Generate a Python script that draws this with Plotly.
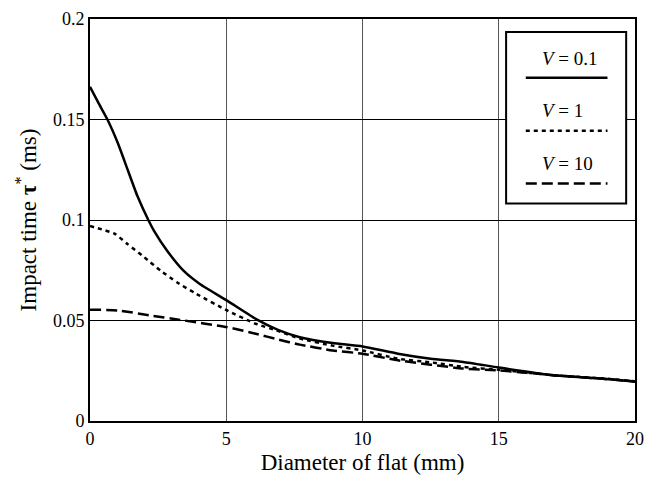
import plotly.graph_objects as go

# Impact time vs. diameter of flat, for three values of V
v01_x = [0, 0.30, 0.64, 1.02, 1.38, 1.74, 2.14, 2.35, 2.83, 3.43, 4.03, 5.03, 6.08,
         6.92, 7.7, 8.9, 10.0, 11.3, 12.5, 13.7, 15.0, 17.0, 18.8, 20.0]
v01_y = [0.1663, 0.1585, 0.150, 0.1383, 0.1251, 0.1119, 0.100, 0.0946, 0.0847, 0.0748,
         0.0682, 0.0599, 0.0508, 0.0452, 0.0417, 0.0388, 0.0371, 0.0335, 0.0310, 0.0294,
         0.0266, 0.0228, 0.0211, 0.0195]

v1_x = [0, 0.9, 1.38, 1.99, 2.59, 3.19, 3.91, 5.03, 6.08, 6.92, 7.7, 8.9, 10.0, 11.3,
        12.5, 13.7, 15.0, 17.0, 18.8, 20.0]
v1_y = [0.097, 0.0932, 0.088, 0.0815, 0.0748, 0.069, 0.0632, 0.055, 0.0484, 0.0447,
        0.041, 0.0375, 0.0351, 0.031, 0.0292, 0.0269, 0.0255, 0.0228, 0.0212, 0.0198]

v10_x = [0, 1.02, 2.23, 3.31, 5.03, 6.08, 6.92, 7.7, 8.9, 10.0, 11.3, 13.7, 15.0, 17.0,
         18.8, 20.0]
v10_y = [0.0554, 0.055, 0.0525, 0.0503, 0.0467, 0.0434, 0.0405, 0.038, 0.0351, 0.0335,
         0.0302, 0.0261, 0.0252, 0.0228, 0.021, 0.0197]

x_ticks = [0, 5, 10, 15, 20]
y_ticks = [0, 0.05, 0.1, 0.15, 0.2]
y_tick_text = ["0", "0.05", "0.1", "0.15", "0.2"]

series_labels = ["0.1", "1", "10"]
dash_styles = ["solid", "4px,4px", "11px,5px"]

FONT = "Liberation Serif"

fig = go.Figure()
for xs, ys, dash in zip([v01_x, v1_x, v10_x], [v01_y, v1_y, v10_y], dash_styles):
    fig.add_trace(go.Scatter(
        x=xs, y=ys, mode="lines",
        line=dict(color="black", width=2.5, dash=dash, shape="spline", smoothing=0.5),
        showlegend=False,
    ))

# Hand-built legend box: label above each line sample
box = dict(x0=0.7635, x1=0.9838, y0=0.541, y1=0.9677)
fig.add_shape(type="rect", xref="paper", yref="paper", **box,
              line=dict(color="black", width=2), fillcolor="white", layer="above")
text_y = [0.9007, 0.7717, 0.6402]
line_y = [0.8536, 0.7221, 0.5906]
for lab, dash, ty, ly in zip(series_labels, dash_styles, text_y, line_y):
    fig.add_annotation(xref="paper", yref="paper", x=0.825, y=ty, xanchor="left",
                       yanchor="middle", showarrow=False,
                       text=f"<i>V</i> = {lab}",
                       font=dict(family=FONT, size=19, color="black"))
    fig.add_shape(type="line", xref="paper", yref="paper", x0=0.7996, x1=0.9495,
                  y0=ly, y1=ly, line=dict(color="black", width=2.5, dash=dash),
                  layer="above")

fig.update_layout(
    width=653, height=483,
    margin=dict(l=90, r=9, t=18, b=62),
    paper_bgcolor="white", plot_bgcolor="white",
    font=dict(family=FONT, size=18, color="black"),
    xaxis=dict(
        range=[0, 20], tickvals=x_ticks, ticks="", ticklen=0,
        showgrid=True, gridcolor="#555555", gridwidth=1,
        showline=True, linecolor="black", linewidth=2, mirror=True,
        zeroline=False, tickfont=dict(family=FONT, size=18),
        title=dict(text="Diameter of flat (mm)", font=dict(family=FONT, size=23),
                   standoff=6),
    ),
    yaxis=dict(
        range=[0, 0.2], tickvals=y_ticks, ticktext=y_tick_text, ticks="",
        showgrid=True, gridcolor="black", gridwidth=1.3,
        showline=True, linecolor="black", linewidth=2, mirror=True,
        zeroline=False, tickfont=dict(family=FONT, size=18),
        title=dict(text="Impact time <b>τ</b><sup>*</sup> (ms)",
                   font=dict(family=FONT, size=23), standoff=10),
    ),
)

fig.write_html("out.html")
